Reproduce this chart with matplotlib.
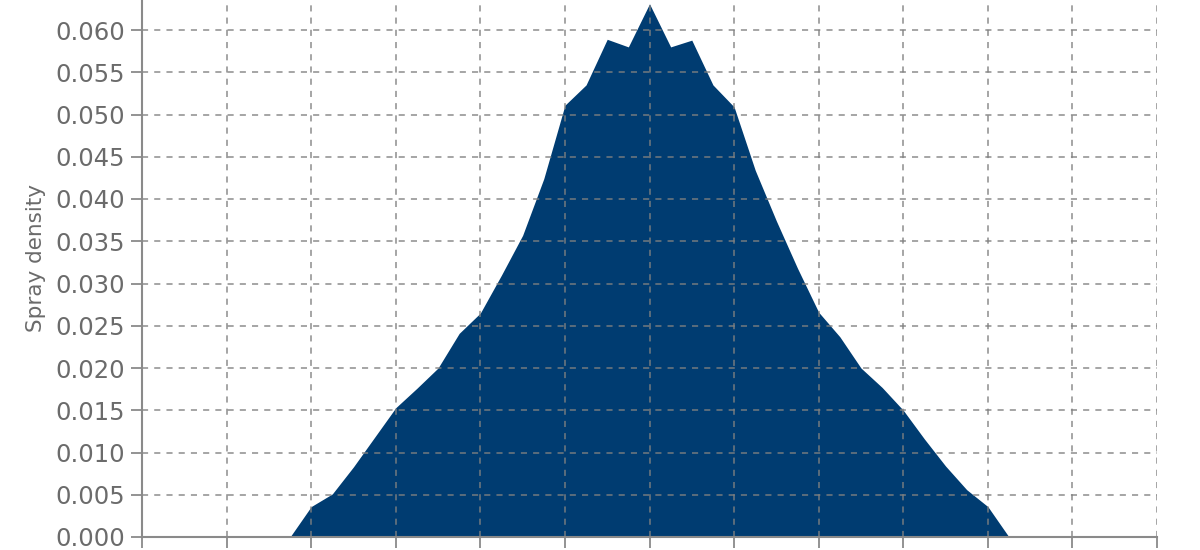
import matplotlib
matplotlib.use("Agg")
import matplotlib.pyplot as plt
import numpy as np

# spray density profile (x in grid units, 0.25 step)
pos = np.arange(-4.25, 4.26, 0.25)
density = [0.0000, 0.0036, 0.0051, 0.0083, 0.0118, 0.0153, 0.0176, 0.0200,
           0.0241, 0.0265, 0.0310, 0.0357, 0.0424, 0.0511, 0.0535, 0.0589,
           0.0580, 0.0631, 0.0580, 0.0588, 0.0535, 0.0509, 0.0434, 0.0374,
           0.0318, 0.0266, 0.0237, 0.0200, 0.0177, 0.0150, 0.0116, 0.0084,
           0.0056, 0.0036, 0.0000]
yticks = np.arange(0, 0.0601, 0.005)
xticks = np.arange(-6, 7, 1)

grey = "#6b6b6b"
navy = "#003c71"

fig = plt.figure(figsize=(12, 5.5), dpi=100)
ymax = 0.066
# axes runs past the top of the figure, like the cropped reference
ax = fig.add_axes([142 / 1200, 13 / 550, 1015 / 1200, (ymax / 0.005) * 42.25 / 550])

ax.fill_between(pos, density, 0, color=navy, linewidth=0, zorder=1)
ax.set_xlim(-6, 6)
ax.set_ylim(0, ymax)
ax.set_xticks(xticks)
ax.set_yticks(yticks)
ax.set_yticklabels([f"{v:.3f}" for v in yticks])
ax.grid(True, linestyle=(0, (4, 4)), color="#808080", alpha=0.9, linewidth=1.1, zorder=2)
ax.set_axisbelow(False)

for s in ["top", "right"]:
    ax.spines[s].set_visible(False)
for s in ["left", "bottom"]:
    ax.spines[s].set_color("#8a8a8a")
    ax.spines[s].set_linewidth(1.5)
    ax.spines[s].set_zorder(3)

ax.tick_params(axis="both", colors="#8a8a8a", labelcolor=grey, length=8, width=1.3,
               labelsize=17.5, pad=4)
ax.tick_params(axis="x", labelbottom=False)
ax.set_ylabel("Spray density", fontsize=15.5, color=grey, labelpad=7)

fig.savefig("out.png", dpi=100)
